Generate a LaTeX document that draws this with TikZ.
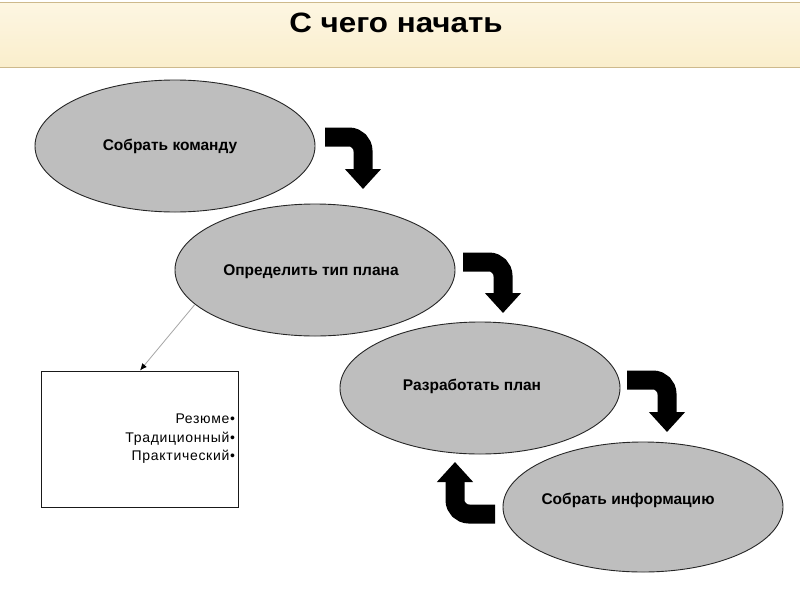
\documentclass[tikz,border=0pt]{standalone}
\usepackage{fontspec}
\setmainfont{Liberation Sans}
\usetikzlibrary{shapes.geometric,arrows.meta}
\definecolor{bandcol}{RGB}{250,238,204}
\definecolor{bandtop}{RGB}{253,246,226}
\definecolor{bandline}{RGB}{205,185,140}
\definecolor{ovalfill}{RGB}{190,190,190}

\begin{document}
\begin{tikzpicture}[x=1pt,y=-1pt,
    oval/.style={draw=black!85,fill=ovalfill,ellipse,line width=0.9pt,inner sep=0pt,
                 minimum width=280pt,minimum height=132pt},
    ovaltext/.style={font=\fontsize{15.5}{18}\selectfont\bfseries},
    turnarrow/.style={line width=19pt,rounded corners=14pt,-{Triangle[length=20pt,width=35pt]}}]
    \useasboundingbox (0,0) rectangle (800,600);
    \fill[white] (0,0) rectangle (800,600);
    % header
    \shade[top color=bandtop,bottom color=bandcol] (0,2) rectangle (800,67);
    \draw[bandline,line width=1pt] (0,2) -- (800,2);
    \draw[bandline,line width=1pt] (0,67) -- (800,67);
    \node (title) at (396,23) {\fontsize{28}{30}\selectfont\bfseries\scalebox{1.12}[1]{С чего начать}};

    % steps
    \node[oval] (team) at (175,146) {};
    \node[oval] (type) at (315,270) {};
    \node[oval] (plan) at (480,388) {};
    \node[oval,minimum height=130pt] (info) at (643,507) {};
    \node[ovaltext] (teamtext) at (170,146) {Собрать команду};
    \node[ovaltext] (typetext) at (311,272) {Определить тип плана};
    \node[ovaltext] (plantext) at (472,386) {Разработать план};
    \node[ovaltext] (infotext) at (628,500) {Собрать информацию};

    % plan types
    \node[draw=black!90,line width=1pt,text width=190pt,align=right,minimum height=136pt,
          font=\fontsize{14}{18.5}\selectfont\addfontfeatures{LetterSpace=5}] (kinds) at (140,439)
          {Резюме•\\Традиционный•\\Практический•};
    \draw[gray!70,line width=0.8pt,-{Latex[black,length=7pt,width=6pt]}] (type.196) -- (kinds.north);

    % thick turn arrows
    \coordinate (a1) at (325,137); \coordinate (t1) at (363,189);
    \coordinate (a2) at (463,262); \coordinate (t2) at (503,313);
    \coordinate (a3) at (627,380); \coordinate (t3) at (667,432);
    \coordinate (a4) at (495,514); \coordinate (t4) at (455,462);
    \draw[turnarrow] (a1) -| (t1);
    \draw[turnarrow] (a2) -| (t2);
    \draw[turnarrow] (a3) -| (t3);
    \draw[turnarrow] (a4) -| (t4);
\end{tikzpicture}
\end{document}
